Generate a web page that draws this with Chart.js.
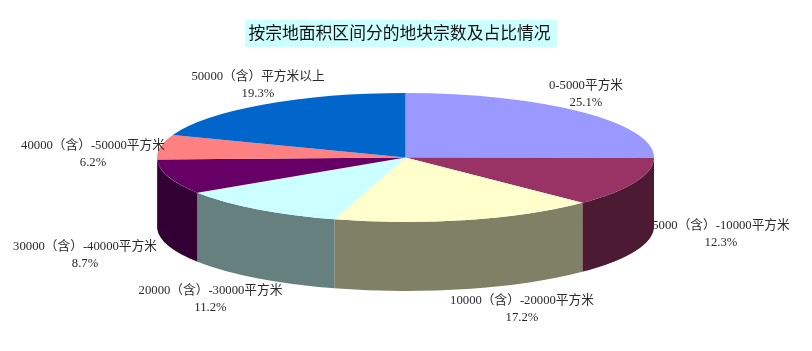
<!DOCTYPE html>
<html>
<head>
<meta charset="utf-8">
<title>按宗地面积区间分的地块宗数及占比情况</title>
<script src="https://cdn.jsdelivr.net/npm/chart.js@4/dist/chart.umd.min.js"></script>
<style>
    body { margin: 0; background: #fff; }
    canvas { display: block; }
</style>
</head>
<body>
<canvas id="pieChart" width="812" height="351"></canvas>
<script>
var categorias = [
    '0-5000平方米',
    '5000（含）-10000平方米',
    '10000（含）-20000平方米',
    '20000（含）-30000平方米',
    '30000（含）-40000平方米',
    '40000（含）-50000平方米',
    '50000（含）平方米以上'
];
var valores = [25.1, 12.3, 17.2, 11.2, 8.7, 6.2, 19.3];
var colores = ['#9999ff', '#993366', '#ffffcc', '#ccffff', '#660066', '#ff8080', '#0066cc'];
var coloresPared = ['#4d4d80', '#4d1a33', '#808066', '#668080', '#330033', '#804040', '#003366'];

// Centro de cada etiqueta (primera linea)
var posEtiquetas = [[586, 86], [721, 226], [522, 301], [210.5, 291], [85, 247], [93, 146], [258, 77]];

// Geometria de la elipse en pantalla
var elipse = { x: 405.5, y: 157.5, rx: 248.5, ry: 64.5, alto: 69 };

var pie3d = {
    id: 'pie3d',
    beforeDraw: function (chart) {
        // Fondo del titulo
        var ctx = chart.ctx;
        ctx.save();
        ctx.fillStyle = '#ccffff';
        ctx.fillRect(245, 20, 312, 27);
        ctx.restore();
    },
    beforeDatasetsDraw: function (chart) {
        var ctx = chart.ctx;
        var arcos = chart.getDatasetMeta(0).data;

        // Pared lateral: solo la mitad de abajo se ve
        arcos.forEach(function (arco, i) {
            var a = Math.max(arco.startAngle, 0);
            var b = Math.min(arco.endAngle, Math.PI);
            if (b <= a) return;
            ctx.beginPath();
            ctx.ellipse(elipse.x, elipse.y, elipse.rx, elipse.ry, 0, a, b);
            ctx.ellipse(elipse.x, elipse.y + elipse.alto, elipse.rx, elipse.ry, 0, b, a, true);
            ctx.closePath();
            ctx.fillStyle = coloresPared[i];
            ctx.fill();
        });

        // La tapa: el pie normal aplastado a la elipse
        var base = arcos[0];
        ctx.save();
        ctx.translate(elipse.x, elipse.y);
        ctx.scale(elipse.rx / base.outerRadius, elipse.ry / base.outerRadius);
        ctx.translate(-base.x, -base.y);
    },
    afterDatasetsDraw: function (chart) {
        var ctx = chart.ctx;
        ctx.restore();

        ctx.save();
        ctx.font = '12.7px "Liberation Serif", "Noto Sans CJK SC"';
        ctx.fillStyle = '#2a2a2a';
        ctx.textAlign = 'center';
        ctx.textBaseline = 'middle';
        categorias.forEach(function (cat, i) {
            ctx.fillText(cat, posEtiquetas[i][0], posEtiquetas[i][1]);
            ctx.fillText(valores[i].toFixed(1) + '%', posEtiquetas[i][0], posEtiquetas[i][1] + 16.5);
        });
        ctx.restore();
    }
};

var pieCtx = document.getElementById('pieChart');
new Chart(pieCtx, {
    type: 'pie',
    data: {
        labels: categorias,
        datasets: [{
            data: valores,
            backgroundColor: colores,
            borderWidth: 0
        }]
    },
    options: {
        responsive: false,
        animation: false,
        layout: { padding: { right: 13 } },
        plugins: {
            legend: { display: false },
            tooltip: { enabled: false },
            title: {
                display: true,
                text: '按宗地面积区间分的地块宗数及占比情况',
                color: '#111',
                font: { family: '"Noto Sans CJK SC"', size: 16.8, weight: 'normal' },
                padding: { top: 23, bottom: 4 }
            }
        }
    },
    plugins: [pie3d]
});
</script>
</body>
</html>
